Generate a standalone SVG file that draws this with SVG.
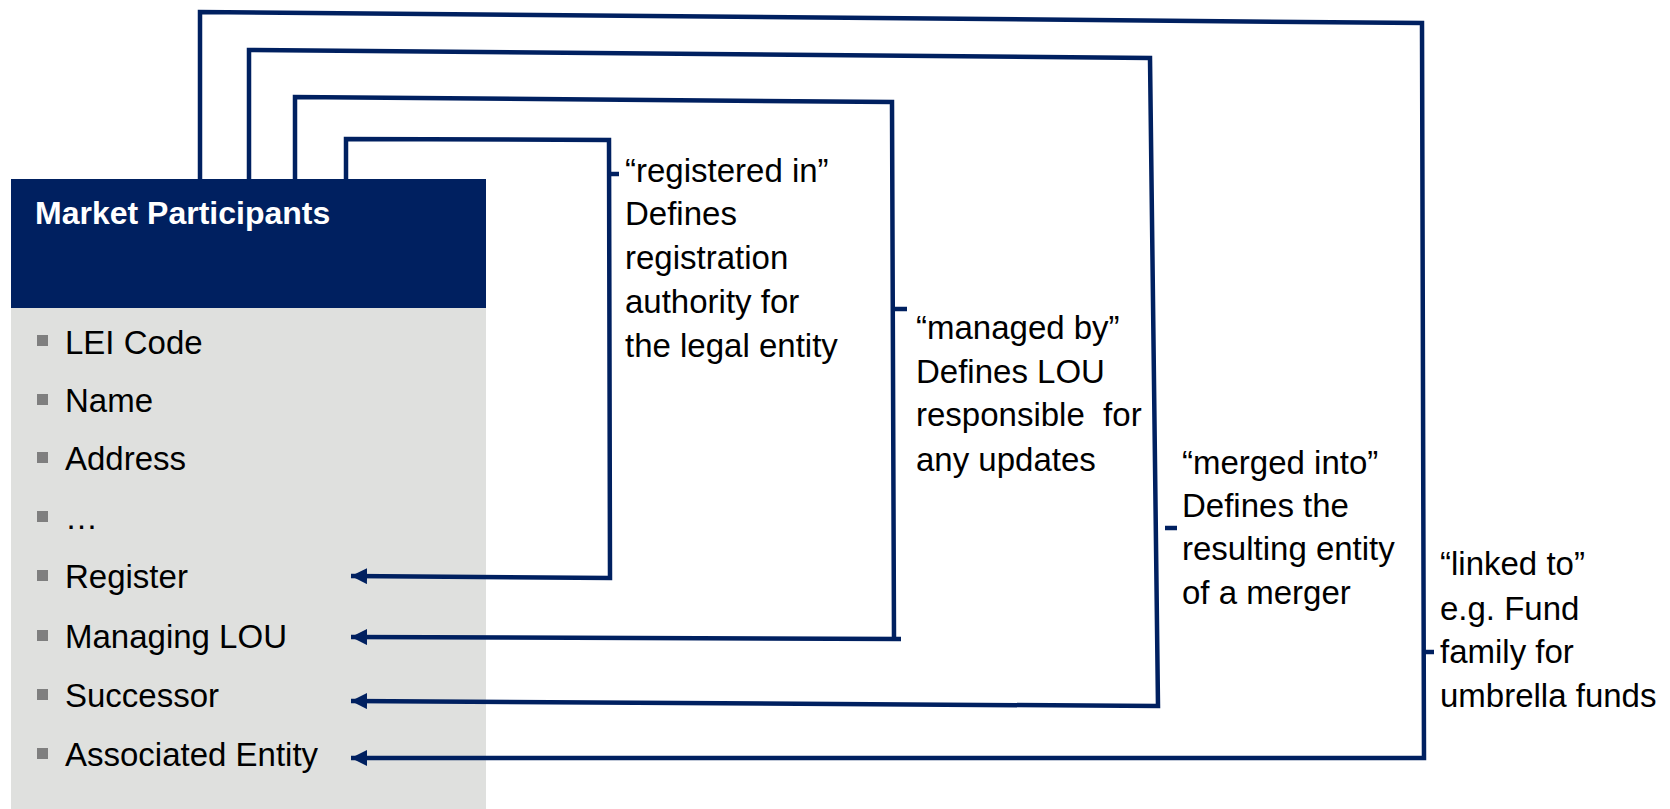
<svg xmlns="http://www.w3.org/2000/svg" width="1670" height="809" viewBox="0 0 1670 809">
<style>
.t{font-family:"Liberation Sans",Arial,sans-serif;font-size:33px;fill:#000;white-space:pre}
.item{font-family:"Liberation Sans",Arial,sans-serif;font-size:33px;fill:#000}
.ln{fill:none;stroke:#002060;stroke-width:4.5}
.bul{fill:#7f7f7f}
</style>
<defs>
<marker id="ah" markerUnits="userSpaceOnUse" markerWidth="18" markerHeight="16" refX="16" refY="8" orient="auto">
<path d="M0,0 L16,8 L0,16 Z" fill="#002060"/>
</marker>
</defs>
<rect width="1670" height="809" fill="#fff"/>
<g id="market-participants">
<rect x="11" y="308" width="475" height="501" fill="#dfe0de"/>
<rect x="11" y="179" width="475" height="129" fill="#002060"/>
<text x="35" y="224" font-family="Liberation Sans,Arial,sans-serif" font-weight="bold" font-size="32" fill="#fff">Market Participants</text>
<rect class="bul" x="37" y="335" width="11" height="11"/>
<text class="item" x="65" y="354">LEI Code</text>
<rect class="bul" x="37" y="394" width="11" height="11"/>
<text class="item" x="65" y="412">Name</text>
<rect class="bul" x="37" y="452" width="11" height="11"/>
<text class="item" x="65" y="470">Address</text>
<rect class="bul" x="37" y="511" width="11" height="11"/>
<text class="item" x="65" y="529">…</text>
<rect class="bul" x="37" y="570" width="11" height="11"/>
<text class="item" x="65" y="588">Register</text>
<rect class="bul" x="37" y="630" width="11" height="11"/>
<text class="item" x="65" y="648">Managing LOU</text>
<rect class="bul" x="37" y="689" width="11" height="11"/>
<text class="item" x="65" y="707">Successor</text>
<rect class="bul" x="37" y="748" width="11" height="11"/>
<text class="item" x="65" y="766">Associated Entity</text>
</g>
<g id="connectors">
<path class="ln" d="M346,179 L346,139 L609,140 L610,578 L351,576" marker-end="url(#ah)"/>
<path class="ln" d="M610,174 H619"/>
<path class="ln" d="M295,179 L295,97 L892,102 L894,639"/>
<path class="ln" d="M901,639 L351,637" marker-end="url(#ah)"/>
<path class="ln" d="M894,309 H907"/>
<path class="ln" d="M249,179 L249,50 L1150,58 L1158,706 L351,701" marker-end="url(#ah)"/>
<path class="ln" d="M1165,528 H1177"/>
<path class="ln" d="M200,179 L200,12 L1422,23 L1424,758 L351,758" marker-end="url(#ah)"/>
<path class="ln" d="M1424,652 H1434"/>
</g>
<g id="label-registered">
<text class="t" x="625" y="182">“registered in”</text>
<text class="t" x="625" y="225">Defines</text>
<text class="t" x="625" y="269">registration</text>
<text class="t" x="625" y="313">authority for</text>
<text class="t" x="625" y="357">the legal entity</text>
</g>
<g id="label-managed">
<text class="t" x="916" y="339">“managed by”</text>
<text class="t" x="916" y="383">Defines LOU</text>
<text class="t" x="916" y="426">responsible  for</text>
<text class="t" x="916" y="471">any updates</text>
</g>
<g id="label-merged">
<text class="t" x="1182" y="474">“merged into”</text>
<text class="t" x="1182" y="517">Defines the</text>
<text class="t" x="1182" y="560">resulting entity</text>
<text class="t" x="1182" y="604">of a merger</text>
</g>
<g id="label-linked">
<text class="t" x="1440" y="575">“linked to”</text>
<text class="t" x="1440" y="620">e.g. Fund</text>
<text class="t" x="1440" y="663">family for</text>
<text class="t" x="1440" y="707">umbrella funds</text>
</g>
</svg>
